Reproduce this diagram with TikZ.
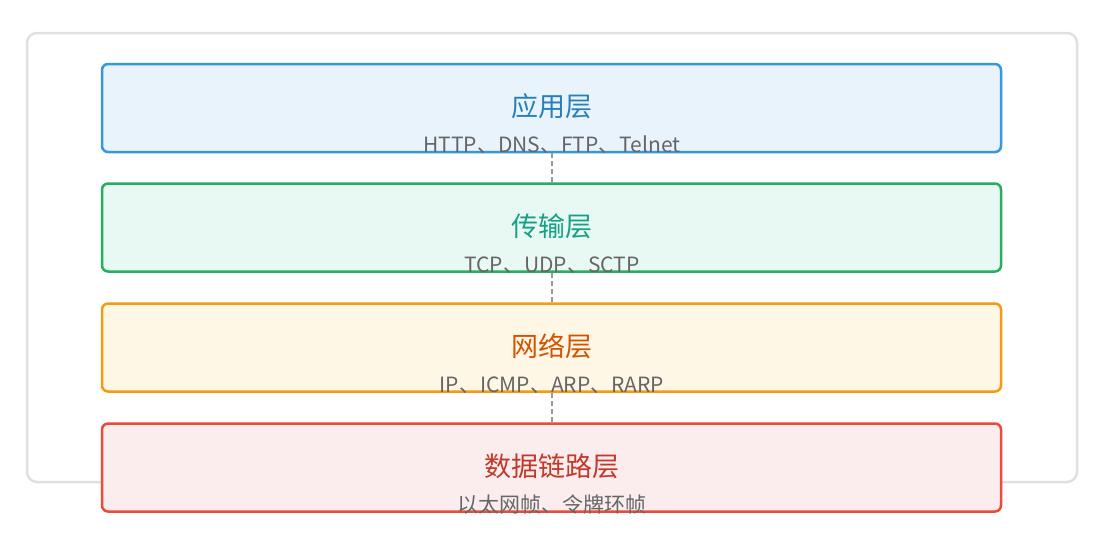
\documentclass[tikz,border=0pt]{standalone}
\usepackage{fontspec}
\setmainfont{Noto Sans CJK SC}
\newfontfamily\cjk{Noto Sans CJK SC}
\definecolor{frameC}{HTML}{E0E0E0}
\definecolor{blueS}{HTML}{3498DB}\definecolor{blueF}{HTML}{E8F3FC}\definecolor{blueT}{HTML}{2980B9}
\definecolor{greenS}{HTML}{27AE60}\definecolor{greenF}{HTML}{E8F8F3}\definecolor{greenT}{HTML}{16A085}
\definecolor{orangeS}{HTML}{F39C12}\definecolor{orangeF}{HTML}{FEF7E5}\definecolor{orangeT}{HTML}{D35400}
\definecolor{redS}{HTML}{E74C3C}\definecolor{redF}{HTML}{FBEDED}\definecolor{redT}{HTML}{C0392B}
\definecolor{subT}{HTML}{666666}
\definecolor{dashC}{HTML}{999999}
\tikzset{
  layerbox/.style={draw, line width=2.5pt, rounded corners=6pt, minimum width=899pt, minimum height=88pt, inner sep=0pt},
  titletext/.style={font=\cjk\fontsize{27}{32}\selectfont, inner sep=0pt},
  subtext/.style={font=\cjk\fontsize{21}{25}\selectfont, text=subT, inner sep=0pt, anchor=base},
  linkline/.style={draw=dashC, line width=2pt, dash pattern=on 5pt off 3pt}
}
\begin{document}
\begin{tikzpicture}[x=1pt,y=-1pt]
\useasboundingbox (0,0) rectangle (1115,546);
\draw[frameC, line width=2.5pt, rounded corners=10pt] (27,33) rectangle (1077,482);
\node[layerbox, draw=blueS, fill=blueF] (app) at (551.5,108) {};
\node[layerbox, draw=greenS, fill=greenF] (trans) at (551.5,227.5) {};
\node[layerbox, draw=orangeS, fill=orangeF] (net) at (551.5,347.5) {};
\node[layerbox, draw=redS, fill=redF] (link) at (551.5,467.5) {};
\node[titletext, text=blueT] (appT) at (552,106) {应用层};
\node[subtext] (appS) at (552,152.5) {HTTP、DNS、FTP、Telnet};
\node[titletext, text=greenT] (transT) at (552,226) {传输层};
\node[subtext] (transS) at (552,272.5) {TCP、UDP、SCTP};
\node[titletext, text=orangeT] (netT) at (552,346) {网络层};
\node[subtext] (netS) at (552,392.5) {IP、ICMP、ARP、RARP};
\node[titletext, text=redT] (linkT) at (552,466) {数据链路层};
\node[subtext] (linkS) at (552,512.5) {以太网帧、令牌环帧};
\draw[linkline] (app.south) -- (trans.north);
\draw[linkline] (trans.south) -- (net.north);
\draw[linkline] (net.south) -- (link.north);
\end{tikzpicture}
\end{document}
